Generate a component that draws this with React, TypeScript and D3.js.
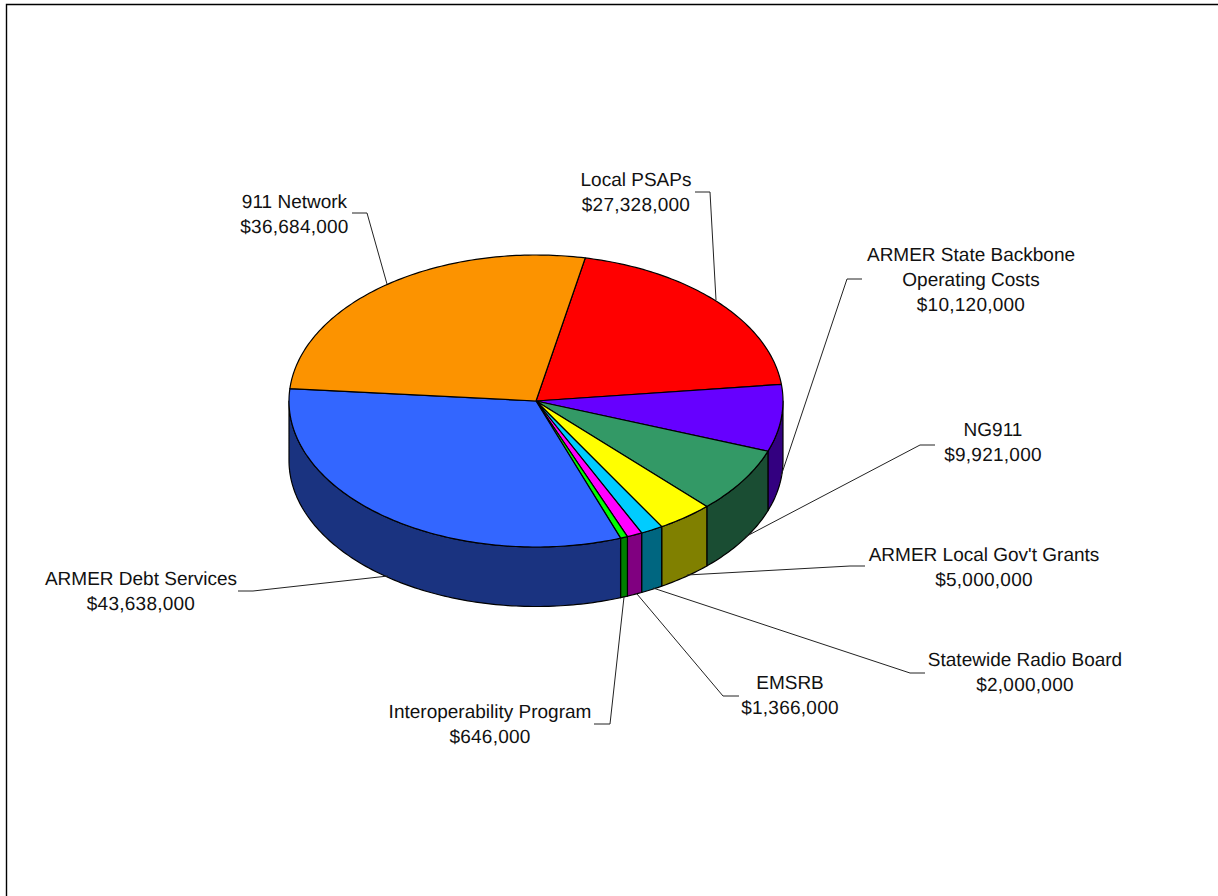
import React from "react";
import * as d3 from "d3";

// Budget lines, clockwise from the top of the pie
const categories = [
  "Local PSAPs",
  "ARMER State Backbone|Operating Costs",
  "NG911",
  "ARMER Local Gov't Grants",
  "Statewide Radio Board",
  "EMSRB",
  "Interoperability Program",
  "ARMER Debt Services",
  "911 Network",
];
const amounts = [27328000, 10120000, 9921000, 5000000, 2000000, 1366000, 646000, 43638000, 36684000];
const topColors = ["#ff0000", "#6600ff", "#339966", "#ffff00", "#00ccff", "#ff00ff", "#00ff00", "#3366ff", "#fc9300"];

const WIDTH = 1218;
const HEIGHT = 896;
const CX = 536;
const CY = 401;
const RX = 247;
const RY = 146;
const DEPTH = 59.5;
const START = (11.5 * Math.PI) / 180;
const FONT_SIZE = 19;
const LINE_GAP = 25;

// Label placement: text centre, first baseline, and the leader polyline
const labelLayout = [
  { x: 636, y: 186, leader: [[695, 192], [710, 192], [716, 300]] },
  { x: 971, y: 261, leader: [[862, 279], [847, 279], [781, 476]] },
  { x: 993, y: 436, leader: [[935, 445], [920, 445], [745, 537]] },
  { x: 984, y: 561, leader: [[865, 566], [850, 566], [687, 575]] },
  { x: 1025, y: 666, leader: [[925, 673], [910, 673], [653, 588]] },
  { x: 790, y: 689, leader: [[739, 696], [723, 696], [637, 594]] },
  { x: 490, y: 718, leader: [[594, 724], [610, 724], [624, 597]] },
  { x: 141, y: 585, leader: [[238, 591], [253, 591], [388, 576]] },
  { x: 294.5, y: 208, leader: [[352, 213], [367, 213], [387, 284]] },
];

const money = d3.format("$,");

// Point on the pie's rim; angle is clockwise from 12 o'clock
const rim = (a: number, dy = 0): [number, number] => [CX + RX * Math.sin(a), CY - RY * Math.cos(a) + dy];

const halve = (c: string) => {
  const { r, g, b } = d3.rgb(c);
  return d3.rgb(r / 2, g / 2, b / 2).formatHex();
};

export default function App() {
  const pie = d3
    .pie<number>()
    .sort(null)
    .startAngle(START)
    .endAngle(START + 2 * Math.PI);
  const slices = pie(amounts);
  const line = d3.line();

  const topPath = (a0: number, a1: number) => {
    const n = Math.max(2, Math.ceil((a1 - a0) * 60));
    const pts = d3.range(n + 1).map((i) => rim(a0 + ((a1 - a0) * i) / n));
    return line([[CX, CY], ...pts]) + "Z";
  };

  // Only the front half of the wall is visible: 90deg to 270deg from the top
  const wallPath = (a0: number, a1: number) => {
    const lo = Math.max(a0, Math.PI / 2);
    const hi = Math.min(a1, (3 * Math.PI) / 2);
    if (hi <= lo) return null;
    const n = Math.max(2, Math.ceil((hi - lo) * 60));
    const upper = d3.range(n + 1).map((i) => rim(lo + ((hi - lo) * i) / n));
    const lower = upper.map(([x, y]) => [x, y + DEPTH] as [number, number]).reverse();
    return line([...upper, ...lower]) + "Z";
  };

  return (
    <svg
      width={WIDTH}
      height={HEIGHT}
      viewBox={`0 0 ${WIDTH} ${HEIGHT}`}
      style={{ position: "absolute", left: 0, top: 0, background: "#fff" }}
    >
      <path d={`M6.5 ${HEIGHT}V4.5H${WIDTH}`} fill="none" stroke="#000" strokeWidth={1.4} />

      <g stroke="#000" strokeWidth={1.2} strokeLinejoin="round">
        {slices.map((s, i) => {
          const d = wallPath(s.startAngle, s.endAngle);
          return d ? <path key={i} d={d} fill={halve(topColors[i])} /> : null;
        })}
        {slices.map((s, i) => (
          <path key={i} d={topPath(s.startAngle, s.endAngle)} fill={topColors[i]} />
        ))}
      </g>

      <g fill="none" stroke="#222" strokeWidth={1}>
        {labelLayout.map((l, i) => (
          <path key={i} d={line(l.leader as [number, number][]) ?? ""} />
        ))}
      </g>

      <g
        fontFamily="'Liberation Sans', Arial, sans-serif"
        fontSize={FONT_SIZE}
        fill="#111"
        textAnchor="middle"
        textRendering="geometricPrecision"
      >
        {categories.map((c, i) => {
          const names = c.split("|");
          return (
            <text key={i} x={labelLayout[i].x} y={labelLayout[i].y}>
              {names.map((r, j) => (
                <tspan key={j} x={labelLayout[i].x} y={labelLayout[i].y + j * LINE_GAP}>
                  {r}
                </tspan>
              ))}
              <tspan x={labelLayout[i].x} y={labelLayout[i].y + names.length * LINE_GAP} letterSpacing={0.25}>
                {money(amounts[i])}
              </tspan>
            </text>
          );
        })}
      </g>
    </svg>
  );
}
